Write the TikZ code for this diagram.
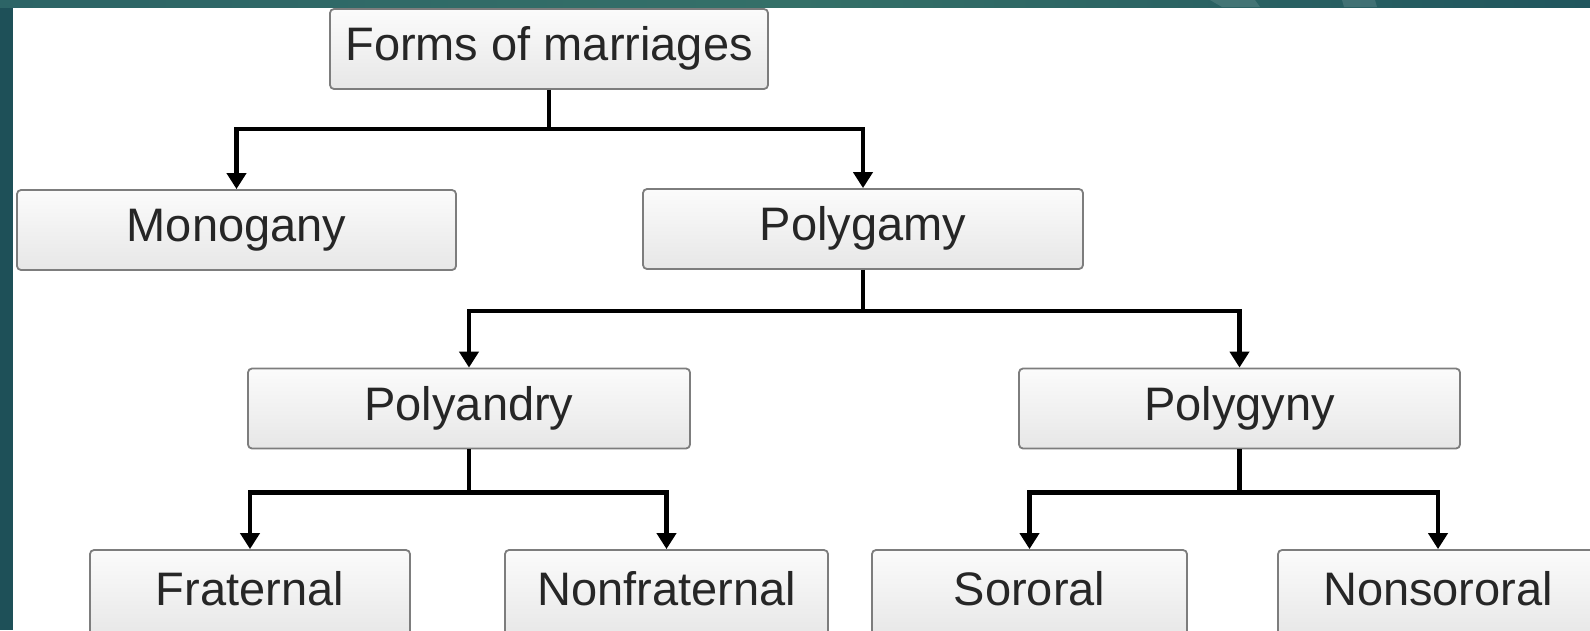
\documentclass[tikz,border=0pt]{standalone}
\usepackage{fontspec}
\setmainfont{Liberation Sans}
\usetikzlibrary{arrows.meta, positioning}
\definecolor{tealside}{RGB}{30,80,88}
\definecolor{tealtopA}{RGB}{44,100,102}
\definecolor{tealtopB}{RGB}{52,112,104}
\definecolor{tealtopC}{RGB}{33,86,94}
\definecolor{boxline}{RGB}{125,125,125}

\begin{document}
\begin{tikzpicture}[
    x=1pt, y=-1pt,
    formbox/.style={rectangle, rounded corners=4pt, draw=boxline, line width=1.8pt,
      top color=gray!3, bottom color=gray!19, minimum height=80pt, inner sep=0pt,
      text height=33pt, text depth=10pt, text=black!85,
      font=\fontsize{47}{53}\selectfont},
    leafbox/.style={formbox, minimum height=88pt},
    link/.style={line width=4.6pt, -{Triangle[width=19pt,length=16pt]}}
]
% page: 1590 x 630, y grows downwards
\clip (0,0) rectangle (1590,630);
\fill[white] (0,0) rectangle (1590,630);

% slide frame: dark strip on the left, gradient band on top
\fill[tealside] (0,0) rectangle (13,630);
\shade[left color=tealtopA, right color=tealtopC, middle color=tealtopB] (0,0) rectangle (1590,7);
\fill[white, opacity=0.12] (1210,0) -- (1255,0) -- (1260,7) -- (1222,7) -- cycle;
\fill[white, opacity=0.12] (1342,0) -- (1375,0) -- (1377,7) -- (1344,7) -- cycle;

% boxes
\node[formbox, minimum width=438pt] (forms) at (549,49) {Forms of marriages};

\node[formbox, minimum width=439pt] (mono) at (236.5,230) {Monogany};
\node[formbox, minimum width=440pt] (polygamy) at (863,229) {Polygamy};

\node[formbox, minimum width=442pt] (polyandry) at (469,408.5) {Polyandry};
\node[formbox, minimum width=441pt] (polygyny) at (1239.5,408.5) {Polygyny};

\node[leafbox, minimum width=320pt] (fraternal) at (250,594) {Fraternal};
\node[leafbox, minimum width=323pt] (nonfrat) at (666.5,594) {Nonfraternal};
\node[leafbox, minimum width=315pt] (sororal) at (1029.5,594) {Sororal};
\node[leafbox, minimum width=320pt] (nonsororal) at (1438,594) {Nonsororal};

% connectors: down from the parent, across, then down onto the child
\foreach \p/\c/\d in {forms/mono/39, forms/polygamy/39,
    polygamy/polyandry/41, polygamy/polygyny/41,
    polyandry/fraternal/43, polyandry/nonfrat/43,
    polygyny/sororal/43, polygyny/nonsororal/43} {
  \draw[link] (\p.south) -- ++(0,\d) -| (\c.north);
}
\end{tikzpicture}
\end{document}
